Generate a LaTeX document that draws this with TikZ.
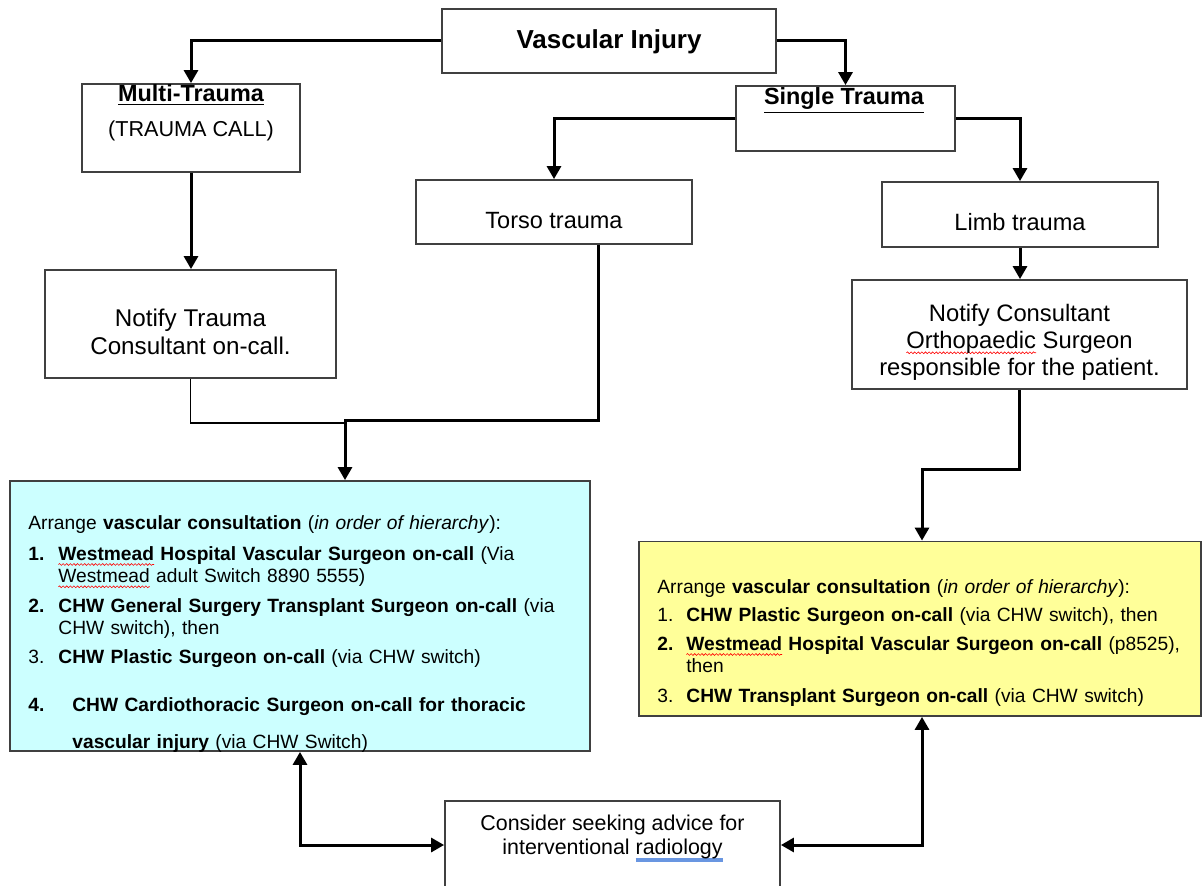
\documentclass[tikz,border=0pt]{standalone}
\usepackage{fontspec}
\setmainfont{Liberation Sans}
\usetikzlibrary{arrows.meta, positioning, decorations.pathmorphing}

\definecolor{consultcyan}{RGB}{204,255,255}
\definecolor{consultyellow}{RGB}{255,255,153}
\definecolor{grammarblue}{RGB}{105,150,225}

\newsavebox\spellbox
\newlength\spellwidth
% red wavy spell-check line under a word
\newcommand\spellwave[1]{%
  \sbox\spellbox{#1}\setlength\spellwidth{\wd\spellbox}%
  \tikz[overlay, baseline=0pt]\draw[red, line width=0.3pt, decorate,
      decoration={snake, amplitude=0.45pt, segment length=1.8pt}]
      (0pt,-1.9pt) -- (\spellwidth,-1.9pt);%
  \usebox\spellbox}
% blue grammar line under a word
\newcommand\grammarline[1]{%
  \sbox\spellbox{#1}\setlength\spellwidth{\wd\spellbox}%
  \tikz[overlay, baseline=0pt]\draw[grammarblue, line width=1.6pt]
      (0pt,-3pt) -- (\spellwidth,-3pt);%
  \usebox\spellbox}

\begin{document}
\begin{tikzpicture}[x=0.5pt, y=-0.5pt,
                    >={Triangle[length=6.5pt, width=7pt]},
                    box/.style = {draw=black!75, line width=0.9pt, inner sep=0pt},
                    flow/.style = {line width=1.5pt},
                    link/.style = {line width=0.6pt},
                    lbl/.style = {inner sep=0pt, align=center},
                    list/.style = {inner sep=0pt, align=left, text width=290pt,
                                   font=\fontsize{9.6}{11.15}\selectfont}
                   ]

    \useasboundingbox (0,0) rectangle (1203,886);

    % boxes
    \node[box, minimum width=167pt, minimum height=32pt, text height=11pt, text depth=3pt,
          font=\bfseries\fontsize{13}{15}\selectfont] (vi) at (609,41) {Vascular Injury};
    \node[box, minimum width=109pt, minimum height=44pt] (multi) at (191,128) {};
    \node[box, minimum width=109.5pt, minimum height=32.5pt] (single) at (845.5,118.5) {};
    \node[box, minimum width=138pt, minimum height=32pt, text height=18.5pt, text depth=2pt,
          font=\fontsize{11.75}{14}\selectfont] (torso) at (554,212) {Torso trauma};
    \node[box, minimum width=138pt, minimum height=32.5pt, text height=18.2pt, text depth=2pt,
          font=\fontsize{11.8}{14}\selectfont] (limb) at (1020,214.5) {Limb trauma};
    \node[box, minimum width=145.5pt, minimum height=54pt] (notifyT) at (190.5,324) {};
    \node[box, minimum width=167.5pt, minimum height=54.5pt] (notifyC) at (1019.5,334.5) {};
    \node[box, fill=consultcyan, minimum width=290pt, minimum height=135pt] (cyan) at (300,616) {};
    \node[box, fill=consultyellow, minimum width=281pt, minimum height=87.25pt] (yellow) at (920,628.75) {};
    \node[box, minimum width=167.5pt, minimum height=44pt] (consider) at (612.5,845) {};

    % texts (multi-line: base is the last line)
    \node[lbl, anchor=base, font=\bfseries\fontsize{11.7}{14}\selectfont]
        (multi-title) at (191,101.7) {\underline{Multi-Trauma}};
    \node[lbl, anchor=base, font=\fontsize{10.8}{13}\selectfont]
        (multi-call) at (191,136.7) {(TRAUMA CALL)};
    \node[lbl, anchor=base, font=\bfseries\fontsize{11.7}{14}\selectfont]
        (single-title) at (844,105) {\underline{Single Trauma}};
    \node[lbl, anchor=base, font=\fontsize{12.1}{14}\selectfont]
        (notifyT-text) at (190.5,355) {Notify Trauma\\Consultant on-call.};
    \node[lbl, anchor=base, font=\fontsize{11.9}{13.5}\selectfont]
        (notifyC-text) at (1019.5,376) {Notify Consultant\\\spellwave{Orthopaedic} Surgeon\\responsible for the patient.};
    \node[lbl, anchor=base, font=\fontsize{10.7}{11.75}\selectfont]
        (consider-text) at (612.5,854) {Consider seeking advice for\\interventional \grammarline{radiology}};

    \node[list, anchor=base west] (cyan-text) at (28,530) {%
        Arrange \textbf{vascular consultation} (\textit{in order of hierarchy}):\\[4.2pt]
        \makebox[15pt][l]{\textbf{1.}}\textbf{\spellwave{Westmead} Hospital Vascular Surgeon on-call} (Via\\
        \hspace*{15pt}\spellwave{Westmead} adult Switch 8890 5555)\\[3.7pt]
        \makebox[15pt][l]{\textbf{2.}}\textbf{CHW General Surgery Transplant Surgeon on-call} (via\\
        \hspace*{15pt}CHW switch), then\\[3.35pt]
        \makebox[15pt][l]{3.}\textbf{CHW Plastic Surgeon on-call} (via CHW switch)\\[12.85pt]
        \makebox[22pt][l]{\textbf{4.}}\textbf{CHW Cardiothoracic Surgeon on-call for thoracic}\\[6.85pt]
        \hspace*{22pt}\textbf{vascular injury} (via CHW Switch)};

    \node[list, anchor=base west] (yellow-text) at (657,594) {%
        Arrange \textbf{vascular consultation} (\textit{in order of hierarchy}):\\[2.7pt]
        \makebox[14.5pt][l]{1.}\textbf{CHW Plastic Surgeon on-call} (via CHW switch), then\\[3.35pt]
        \makebox[14.5pt][l]{\textbf{2.}}\textbf{\spellwave{Westmead} Hospital Vascular Surgeon on-call} (p8525),\\
        \hspace*{14.5pt}then\\[3.85pt]
        \makebox[14.5pt][l]{3.}\textbf{CHW Transplant Surgeon on-call} (via CHW switch)};

    % connectors
    \coordinate (merge) at (345,421);
    \coordinate (bend) at (922,470);

    \draw[flow, ->] (vi.west) -| (multi.north);
    \draw[flow, ->] (vi.east) -| (single.north);
    \draw[flow, ->] (single.west) -| (torso.north);
    \draw[flow, ->] (single.east) -| (limb.north);
    \draw[flow, ->] (multi.south) -- (multi.south |- notifyT.north);
    \draw[flow, ->] (limb.south) -- (limb.south |- notifyC.north);
    \draw[link] (notifyT.south) |- ([yshift=-1pt]merge);
    \draw[flow, ->] ([xshift=22pt]torso.south) |- (merge) -- (merge |- cyan.north);
    \draw[flow, ->] (notifyC.south) |- (bend) -- (bend |- yellow.north);
    \draw[flow, <->] (cyan.south) |- (consider.west);
    \draw[flow, <->] ([xshift=1pt]yellow.south) |- (consider.east);

\end{tikzpicture}
\end{document}
